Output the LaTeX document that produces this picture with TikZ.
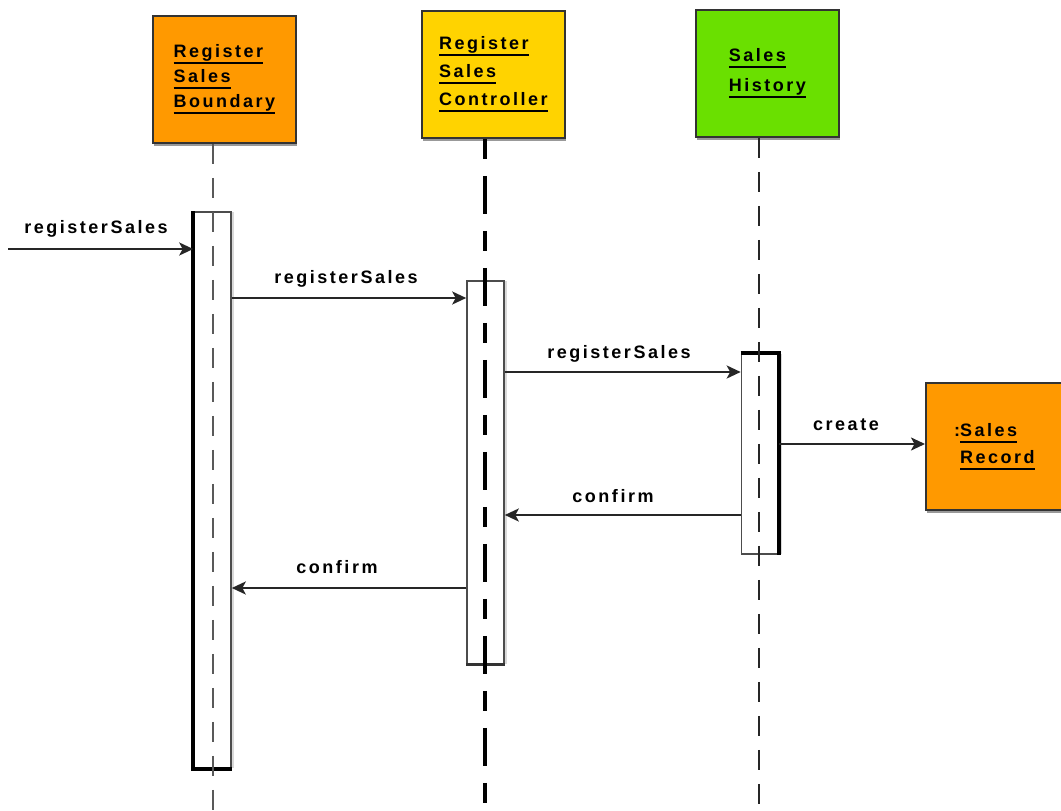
\documentclass[tikz,border=0pt]{standalone}
\usepackage{fontspec}
\newfontfamily\lblfont[LetterSpace=14]{Liberation Sans}
\usetikzlibrary{arrows.meta,shadows}
\definecolor{orng}{HTML}{FF9900}
\definecolor{yell}{HTML}{FFD300}
\definecolor{grn}{HTML}{6AE000}
\definecolor{edgec}{HTML}{333333}
\newcommand\ulw[1]{\setbox0=\hbox{#1}\rlap{\rule[-6.5pt]{\wd0}{2pt}}\box0}
\begin{document}
\begin{tikzpicture}[x=1pt,y=-1pt,
  obj/.style={draw=edgec, line width=1.8pt, minimum width=143pt, minimum height=127pt,
    inner sep=0pt, align=left, anchor=north west,
    drop shadow={shadow xshift=1.5pt, shadow yshift=-3pt, fill=black!40, opacity=1}},
  objfont/.style={font=\lblfont\bfseries\fontsize{18}{#1}\selectfont},
  bar/.style={draw=black!70, fill=white, line width=1.6pt, minimum width=37pt,
    inner sep=0pt, anchor=north,
    drop shadow={shadow xshift=3pt, shadow yshift=0pt, fill=black!15, opacity=1}},
  thickside/.style={line width=4pt, black},
  lifethin/.style={line width=1.6pt, black!65, dash pattern=on 20pt off 14pt},
  lifethick/.style={line width=4pt, black, dash pattern=on 20pt off 17pt on 38pt off 17pt},
  lifemid/.style={line width=2.4pt, black!85, dash pattern=on 20pt off 14pt},
  msg/.style={line width=2.3pt, black!85, -{Stealth[length=14pt,width=13pt,inset=3.5pt]}},
  lab/.style={font=\lblfont\bfseries\fontsize{18}{20}\selectfont, inner sep=0pt, anchor=base}
]
\useasboundingbox (0,0) rectangle (1061,811);

% objects
\node[obj, objfont=25, fill=orng] (bnd) at (152,15) {\ulw{Register}\\\ulw{Sales}\\\ulw{Boundary}};
\node[obj, objfont=28, fill=yell] (ctl) at (421,10) {\ulw{Register}\\\ulw{Sales}\\\ulw{Controller}};
\node[obj, objfont=30, fill=grn] (his) at (695,9) {\ulw{Sales}\\\ulw{History}};
\node[obj, objfont=27, fill=orng] (rec) at (925,382) {\llap{:}\ulw{Sales}\\\ulw{Record}};

% lifeline ends
\coordinate (bndEnd) at (213,811);
\coordinate (ctlEnd) at (485,811);
\coordinate (hisEnd) at (759,811);

% activation bars
\node[bar, minimum height=556pt] (barA) at (212.5,211) {};
\node[bar, minimum height=383pt] (barB) at (485.5,280) {};
\node[bar, minimum height=200pt] (barC) at (760,353) {};
\draw[thickside] (barA.north west) -- (barA.south west) -- (barA.south east);
\draw[line width=3pt, black!80] (barB.south west) -- (barB.south east);
\draw[thickside] (barC.north west) -- (barC.north east) -- (barC.south east);

% lifelines
\draw[lifethin] (bnd.south -| bndEnd) -- (bndEnd);
\draw[lifethick] (ctl.south -| ctlEnd) -- (ctlEnd);
\draw[lifemid] (his.south -| hisEnd) -- (hisEnd);

% messages
\coordinate (start) at (8,249);
\draw[msg] (start) -- (start -| barA.west);
\node[lab] (l1) at (96,233) {registerSales};

\draw[msg] (barA.east |- 0,298) -- (barB.west |- 0,298);
\node[lab] (l2) at (346,283) {registerSales};

\draw[msg] (barB.east |- 0,372) -- (barC.west |- 0,372);
\node[lab] (l3) at (619,358) {registerSales};

\draw[msg] (barC.east |- 0,444) -- (rec.west |- 0,444);
\node[lab] (l4) at (846,430) {create};

\draw[msg] (barC.west |- 0,515) -- (barB.east |- 0,515);
\node[lab] (l5) at (613,502) {confirm};

\draw[msg] (barB.west |- 0,588) -- (barA.east |- 0,588);
\node[lab] (l6) at (337,573) {confirm};
\end{tikzpicture}
\end{document}
